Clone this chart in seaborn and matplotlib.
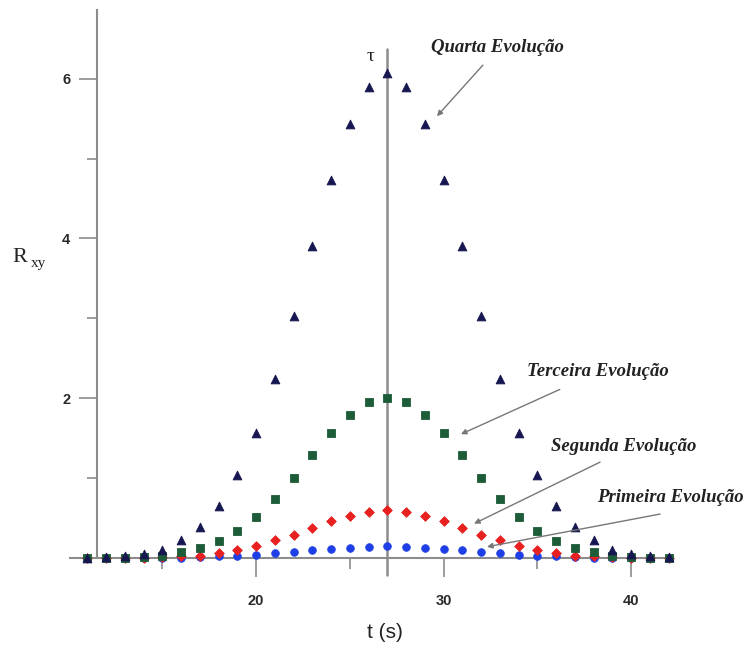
import numpy as np
import pandas as pd
import matplotlib

matplotlib.use("Agg")
import matplotlib.pyplot as plt
import seaborn as sns
from matplotlib.ticker import FixedLocator

# ---------------------------------------------------------------
# Data (t in seconds, R_xy)
# ---------------------------------------------------------------
t = list(range(11, 43))

quarta = [0.00, 0.01, 0.02, 0.05, 0.10, 0.22, 0.39, 0.65, 1.04, 1.56, 2.24,
          3.03, 3.90, 4.73, 5.43, 5.90, 6.07, 5.90, 5.43, 4.73, 3.90, 3.03,
          2.24, 1.56, 1.04, 0.65, 0.39, 0.22, 0.10, 0.05, 0.02, 0.01]
terceira = [0.00, 0.00, 0.00, 0.01, 0.03, 0.07, 0.12, 0.21, 0.34, 0.51, 0.74,
            1.00, 1.29, 1.56, 1.79, 1.95, 2.00, 1.95, 1.79, 1.56, 1.29, 1.00,
            0.74, 0.51, 0.34, 0.21, 0.12, 0.07, 0.03, 0.01, 0.00, 0.00]
segunda = [0.00, 0.00, 0.00, 0.00, 0.01, 0.02, 0.03, 0.06, 0.10, 0.15, 0.22,
           0.29, 0.38, 0.46, 0.53, 0.58, 0.60, 0.58, 0.53, 0.46, 0.38, 0.29,
           0.22, 0.15, 0.10, 0.06, 0.03, 0.02, 0.01, 0.00, 0.00, 0.00]
primeira = [0.00, 0.00, 0.00, 0.00, 0.00, 0.00, 0.01, 0.02, 0.03, 0.04, 0.06,
            0.08, 0.10, 0.11, 0.13, 0.14, 0.15, 0.14, 0.13, 0.11, 0.10, 0.08,
            0.06, 0.04, 0.03, 0.02, 0.01, 0.00, 0.00, 0.00, 0.00, 0.00]

series_names = ["Primeira Evolução", "Segunda Evolução", "Terceira Evolução", "Quarta Evolução"]
series_vals = [primeira, segunda, terceira, quarta]
markers = ["o", "D", "s", "^"]
colors = ["#1f3fe6", "#e82020", "#1c5c38", "#161650"]
sizes = [30, 24, 28, 40]

tau = 27

# label text position, arrow tail, arrow head (data coords)
labels = ["Quarta Evolução", "Terceira Evolução", "Segunda Evolução", "Primeira Evolução"]
label_xy = [(32.9, 6.39), (38.25, 2.34), (39.6, 1.39), (42.1, 0.76)]
arrow_tail = [(32.1, 6.17), (36.2, 2.11), (38.35, 1.20), (41.55, 0.55)]
arrow_head = [(29.65, 5.53), (30.93, 1.55), (31.63, 0.43), (32.32, 0.14)]

df = pd.concat(
    [pd.DataFrame({"t": t, "R": v, "serie": n}) for n, v in zip(series_names, series_vals)],
    ignore_index=True,
)

# ---------------------------------------------------------------
# Figure
# ---------------------------------------------------------------
sns.set_style("white")
plt.rcParams["font.family"] = ["Liberation Sans", "DejaVu Sans"]

fig = plt.figure(figsize=(7.44, 6.48), dpi=100)
ax = fig.add_axes([70 / 744, 90 / 648, 600 / 744, 548 / 648])

gray = "#8c8c8c"
ax.plot([tau, tau], [-0.21, 6.37], color=gray, lw=1.8, clip_on=False, zorder=1)

for name, m, c, s in zip(series_names, markers, colors, sizes):
    sns.scatterplot(
        data=df[df["serie"] == name], x="t", y="R", marker=m, color=c, s=s,
        edgecolor=c, linewidth=0.6, ax=ax, clip_on=False, zorder=3, legend=False,
    )

ax.set_xlim(10.08, 42.08)
ax.set_ylim(0, 6.86)

for side in ["top", "right"]:
    ax.spines[side].set_visible(False)
ax.spines["left"].set_position(("data", 11.5))
for side in ["left", "bottom"]:
    ax.spines[side].set_color(gray)
    ax.spines[side].set_linewidth(1.5)

ax.xaxis.set_major_locator(FixedLocator([20, 30, 40]))
ax.xaxis.set_minor_locator(FixedLocator([15, 25, 35]))
ax.yaxis.set_major_locator(FixedLocator([2, 4, 6]))
ax.yaxis.set_minor_locator(FixedLocator([1, 3, 5]))
ax.tick_params(which="both", bottom=True, left=True, top=False, right=False)
ax.tick_params(which="major", axis="x", length=14, width=1.2, color=gray, direction="out",
               labelsize=10.5, labelcolor="#2a2a2a", pad=12)
ax.tick_params(which="minor", axis="x", length=8, width=1.2, color=gray, direction="out")
ax.tick_params(which="major", axis="y", length=13, width=1.2, color=gray, direction="out",
               labelsize=10.5, labelcolor="#2a2a2a", pad=6)
ax.tick_params(which="minor", axis="y", length=7, width=1.2, color=gray, direction="out")
for lab in ax.get_xticklabels() + ax.get_yticklabels():
    lab.set_fontweight("bold")

ax.set_xlabel("")
ax.set_ylabel("")
fig.text(385 / 744, 1 - 632 / 648, "t (s)", ha="center", va="center", fontsize=15,
         color="#222222")
fig.text(12 / 744, 1 - 258 / 648, "R", ha="left", va="center", fontsize=16,
         family="Liberation Serif", color="#222222")
fig.text(31 / 744, 1 - 263 / 648, "xy", ha="left", va="center", fontsize=11,
         family="Liberation Serif", color="#222222")

ax.text(26.1, 6.28, "τ", ha="center", va="center", fontsize=14,
        family="Liberation Serif", color="#222222")

for lab, pos, tail, head in zip(labels, label_xy, arrow_tail, arrow_head):
    ax.text(pos[0], pos[1], lab, ha="center", va="center", fontsize=13.5,
            family="Liberation Serif", fontweight="bold", fontstyle="italic",
            color="#222222")
    ax.annotate("", xy=head, xytext=tail,
                arrowprops=dict(arrowstyle="-|>", color="#777777", lw=1.0,
                                mutation_scale=8, shrinkA=0, shrinkB=0),
                annotation_clip=False)

fig.savefig("out.png", dpi=100)
plt.close(fig)
